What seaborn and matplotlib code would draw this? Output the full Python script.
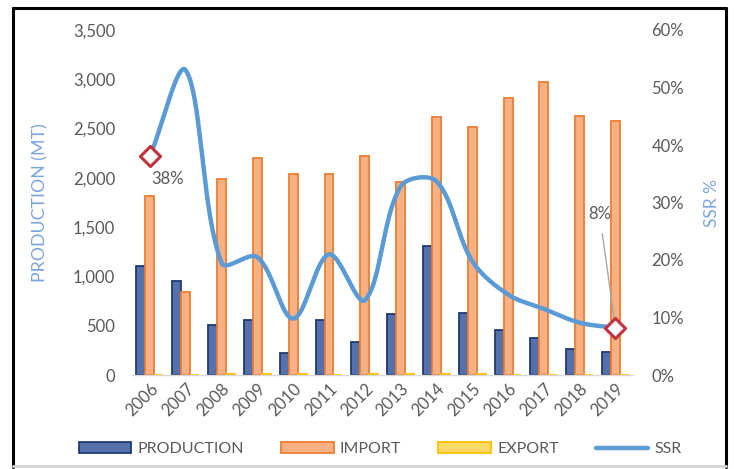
import numpy as np
import pandas as pd
import matplotlib
matplotlib.use("Agg")
import matplotlib.pyplot as plt
import seaborn as sns
from matplotlib.lines import Line2D
from matplotlib.patches import Patch
from matplotlib.ticker import FuncFormatter, MultipleLocator

# ---- data -------------------------------------------------------------
years = [str(y) for y in range(2006, 2020)]
production = [1110, 955, 507, 558, 219, 558, 338, 622, 1311, 625, 456, 375, 264, 236]
imports = [1818, 838, 1988, 2197, 2039, 2039, 2224, 1960, 2613, 2518, 2815, 2968, 2630, 2579]
exports = [4, 3, 12, 8, 6, 5, 7, 6, 8, 6, 5, 5, 4, 4]
ssr = [0.38, 0.53, 0.195, 0.205, 0.098, 0.21, 0.13, 0.328, 0.337, 0.198, 0.14, 0.115, 0.091, 0.082]
series = ["PRODUCTION", "IMPORT", "EXPORT"]

fill = {"PRODUCTION": "#5670ac", "IMPORT": "#f7b184", "EXPORT": "#ffd966"}
edge = {"PRODUCTION": "#1f3a6e", "IMPORT": "#ed7d31", "EXPORT": "#ffc000"}
line_color = "#5b9bd5"
text_color = "#595959"
title_color = "#7aa5dc"

df = pd.DataFrame({
    "year": years * 3,
    "series": [s for s in series for _ in years],
    "value": production + imports + exports,
})

sns.set_theme(style="white")
plt.rcParams["font.family"] = ["Lato", "DejaVu Sans"]
plt.rcParams["font.size"] = 12

W, H = 734, 469
AX_L, AX_R, AX_B, AX_T = 132, 633.4, 375, 30
SSR_MAX = 0.6


def smooth_curve(x, y, sx, sy, n=40):
    """Smoothed line drawn as cubic Bezier segments; control arms are
    split in proportion to neighbouring segment lengths (screen space)."""
    pts = np.column_stack([np.asarray(x, float) * sx, np.asarray(y, float) * sy])
    padded = np.vstack([pts[0], pts, pts[-1]])
    seglen = np.linalg.norm(np.diff(padded, axis=0), axis=1)
    out = []
    t = np.linspace(0, 1, n)[:, None]
    for i in range(len(pts) - 1):
        p0, p1 = padded[i + 1], padded[i + 2]
        d_prev, d_cur, d_next = seglen[i], seglen[i + 1], seglen[i + 2]
        tan0 = padded[i + 2] - padded[i]
        tan1 = padded[i + 3] - padded[i + 1]
        w0 = d_cur / (d_prev + d_cur) if (d_prev + d_cur) > 0 else 0.5
        w1 = d_cur / (d_cur + d_next) if (d_cur + d_next) > 0 else 0.5
        c1 = p0 + tan0 * w0 / 3
        c2 = p1 - tan1 * w1 / 3
        seg = (1 - t) ** 3 * p0 + 3 * (1 - t) ** 2 * t * c1 + 3 * (1 - t) * t ** 2 * c2 + t ** 3 * p1
        out.append(seg if i == 0 else seg[1:])
    res = np.vstack(out)
    return res[:, 0] / sx, res[:, 1] / sy


fig = plt.figure(figsize=(W / 100, H / 100), dpi=100)
fig.patch.set_facecolor("white")
ax = fig.add_axes([AX_L / W, 1 - AX_B / H, (AX_R - AX_L) / W, (AX_B - AX_T) / H])

# ---- bars -------------------------------------------------------------
sns.barplot(data=df, x="year", y="value", hue="series", hue_order=series,
            palette=fill, width=0.75, gap=0, legend=False, ax=ax, saturation=1)
for cont, s in zip(ax.containers, series):
    for bar in cont:
        bar.set_edgecolor(edge[s])
        bar.set_linewidth(1.3)

ax.set_ylim(0, 3500)
ax.yaxis.set_major_locator(MultipleLocator(500))
ax.yaxis.set_major_formatter(FuncFormatter(lambda v, _: f"{v:,.0f}"))
ax.set_xlabel("")
ax.set_ylabel("PRODUCTION (MT)", color=title_color, fontsize=12.8)
ax.yaxis.set_label_coords((48 - AX_L) / (AX_R - AX_L), 0.5)
ax.tick_params(axis="y", length=0, pad=12, labelcolor=text_color, labelsize=12)
ax.tick_params(axis="x", length=0, pad=4, labelcolor=text_color, labelsize=12)
for lab in ax.get_xticklabels():
    lab.set_rotation(45)
    lab.set_ha("right")
    lab.set_rotation_mode("anchor")
for side in ("left", "right", "top"):
    ax.spines[side].set_visible(False)
ax.spines["bottom"].set_color("#d9d9d9")
ax.spines["bottom"].set_linewidth(1)

# ---- SSR line ---------------------------------------------------------
ax2 = ax.twinx()
xpos = np.arange(len(years))
px_per_cat = (AX_R - AX_L) / len(years)
px_per_unit = (AX_B - AX_T) / SSR_MAX
cx, cy = smooth_curve(xpos, ssr, px_per_cat, px_per_unit)
sns.lineplot(x=cx, y=cy, sort=False, estimator=None,
             color=line_color, lw=3.2, ax=ax2)
ends = [0, len(years) - 1]
sns.scatterplot(x=xpos[ends], y=np.array(ssr)[ends], marker="D", s=105,
                facecolor="white", edgecolor="#c0323c", linewidth=2.2,
                zorder=5, ax=ax2)

ax2.set_ylim(0, SSR_MAX)
ax2.yaxis.set_major_locator(MultipleLocator(0.1))
ax2.yaxis.set_major_formatter(FuncFormatter(lambda v, _: f"{v * 100:.0f}%"))
ax2.set_ylabel("SSR %", color=title_color, fontsize=12.5, rotation=90)
ax2.yaxis.set_label_coords((704 - AX_L) / (AX_R - AX_L), 0.5)
ax2.tick_params(axis="y", length=0, pad=13, labelcolor=text_color, labelsize=12)
for side in ("left", "right", "top", "bottom"):
    ax2.spines[side].set_visible(False)
ax.set_xlim(-0.5, len(years) - 0.5)

ax2.annotate(f"{ssr[0] * 100:.0f}%", xy=(0, ssr[0]), xytext=(13, -16),
             textcoords="offset points", ha="center", va="center",
             color=text_color, fontsize=12)
ax2.annotate(f"{ssr[-1] * 100:.0f}%", xy=(len(years) - 1, ssr[-1]), xytext=(-11.5, 82),
             textcoords="offset points", ha="center", va="center",
             color=text_color, fontsize=12,
             arrowprops=dict(arrowstyle="-", color="#a6a6a6", lw=1,
                             shrinkA=6, shrinkB=7))

# ---- legend -----------------------------------------------------------
handles = [Patch(facecolor=fill[s], edgecolor=edge[s], linewidth=1.3) for s in series]
handles.append(Line2D([], [], color=line_color, lw=3.2))
fig.legend(handles, series + ["SSR"], loc="center", bbox_to_anchor=(0.518, 1 - 449 / H),
           ncol=4, frameon=False, handlelength=3.3, handleheight=0.65,
           handletextpad=0.4, columnspacing=2.3, fontsize=11.5, labelcolor=text_color)

# ---- outer frame ------------------------------------------------------
def frame_line(xs, ys, color, lw):
    fig.add_artist(Line2D([x / W for x in xs], [1 - y / H for y in ys],
                          transform=fig.transFigure, color=color, lw=lw))

frame_line([13, 13], [8, 467], "black", 2.2)
frame_line([13, 726], [8, 8], "black", 2.2)
frame_line([726, 726], [8, 467], "black", 2.2)
frame_line([13, 726], [466, 466], "#d4d4d4", 2.0)

fig.savefig("out.png", dpi=100)
